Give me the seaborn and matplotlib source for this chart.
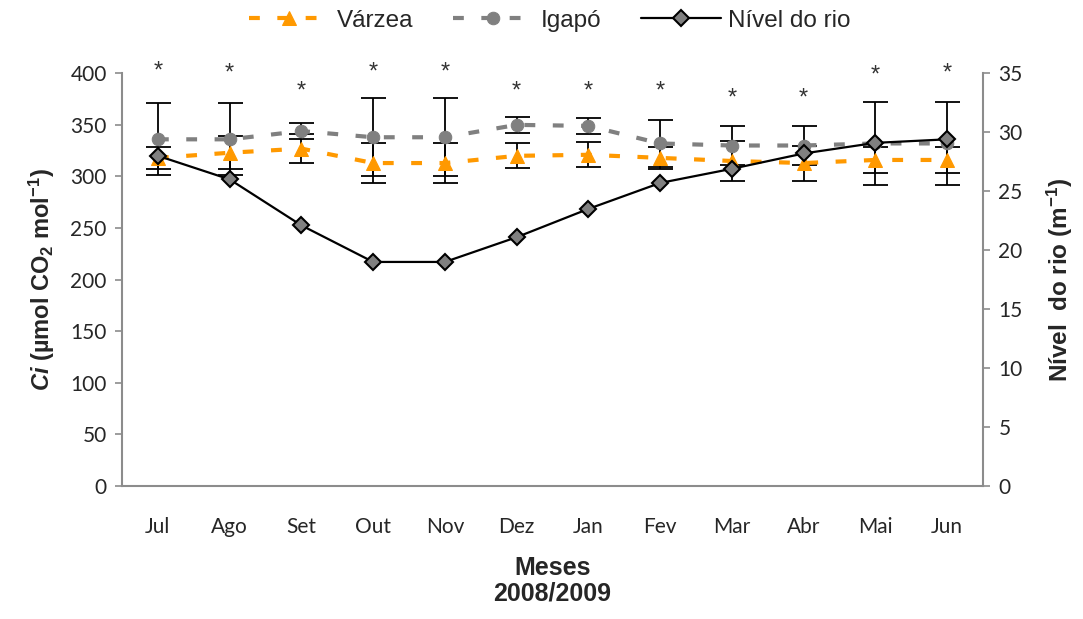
import numpy as np
import seaborn as sns
import matplotlib.pyplot as plt
from matplotlib.ticker import FixedLocator

# valores
months = ['Jul', 'Ago', 'Set', 'Out', 'Nov', 'Dez', 'Jan', 'Fev', 'Mar', 'Abr', 'Mai', 'Jun']
varzea = [318, 323, 327, 313, 313, 320, 321, 318, 315, 313, 316, 316]
varzea_err = [11, 16, 14, 19, 19, 12, 12, 11, 19, 17, 13, 13]
igapo = [336, 336, 344, 338, 338, 350, 349, 332, 330, 330, 332, 332]
igapo_err = [35, 35, 8, 38, 38, 8, 8, 23, 19, 19, 40, 40]
rio = [28.0, 26.0, 22.1, 19.0, 19.0, 21.1, 23.5, 25.7, 26.9, 28.2, 29.1, 29.4]
star_y = [402, 400, 382, 401, 401, 382, 382, 382, 376, 376, 398, 400]

ORANGE = '#FF9900'
GRAY = '#808080'
AXGRAY = '#8C8C8C'

sns.set_style('white')
plt.rcParams['font.family'] = ['Liberation Sans', 'DejaVu Sans']
plt.rcParams['mathtext.fontset'] = 'custom'
plt.rcParams['mathtext.rm'] = 'Liberation Sans'
plt.rcParams['mathtext.bf'] = 'Liberation Sans:bold'
plt.rcParams['mathtext.it'] = 'Liberation Sans:italic'
plt.rcParams['mathtext.bfit'] = 'Liberation Sans:bold:italic'

x = np.arange(len(months))

fig = plt.figure(figsize=(10.83, 6.19), dpi=100)
ax = fig.add_axes([0.1127, 0.2149, 0.795, 0.6667])

# barras de erro atrás dos marcadores
ax.errorbar(x, igapo, yerr=igapo_err, fmt='none', ecolor='black',
            elinewidth=1.3, capsize=9, capthick=1.3, zorder=1)
ax.errorbar(x, varzea, yerr=varzea_err, fmt='none', ecolor='black',
            elinewidth=1.3, capsize=9, capthick=1.3, zorder=1)

sns.lineplot(x=x, y=varzea, ax=ax, color=ORANGE, linewidth=3,
             linestyle=(0, (2.6, 4.2)), marker='^', markersize=10,
             markeredgecolor=ORANGE, label='Várzea', legend=False, zorder=3)
sns.lineplot(x=x, y=igapo, ax=ax, color=GRAY, linewidth=3,
             linestyle=(0, (2.6, 4.2)), marker='o', markersize=9,
             markeredgecolor=GRAY, label='Igapó', legend=False, zorder=2)

for xi, yi in zip(x, star_y):
    ax.text(xi, yi, '*', ha='center', va='center', fontsize=17,
            color='#333333', clip_on=False)

ax.set_xlim(-0.5, len(months) - 0.5)
ax.set_ylim(0, 400)
ax.set_yticks(range(0, 401, 50))
ax.set_xticks(x)
ax.set_xticklabels(months)
ax.xaxis.set_minor_locator(FixedLocator(np.arange(-0.5, len(months), 1.0)))
ax.tick_params(axis='x', which='major', length=0, pad=22, labelsize=15)
ax.tick_params(axis='x', which='minor', length=5, width=1.2, color=AXGRAY,
               direction='out')
ax.tick_params(axis='y', length=5, width=1.2, color=AXGRAY, direction='out',
               labelsize=15, pad=6)
for lab in ax.get_xticklabels() + ax.get_yticklabels():
    lab.set_family(['Lato', 'DejaVu Sans'])

for s in ['top', 'right']:
    ax.spines[s].set_visible(False)
for s in ['left', 'bottom']:
    ax.spines[s].set_color(AXGRAY)
    ax.spines[s].set_linewidth(1.5)

ax.set_ylabel(r'$\bfit{Ci}$ (µmol CO$_\mathbf{2}$ mol$^{\mathbf{-1}}$)',
              fontsize=17, fontweight='bold', labelpad=10)
ax.set_xlabel('Meses\n2008/2009', fontsize=18, fontweight='bold',
              labelpad=14, linespacing=1.08)

ax2 = ax.twinx()
sns.lineplot(x=x, y=rio, ax=ax2, color='black', linewidth=1.6,
             marker='D', markersize=8, markerfacecolor=GRAY,
             markeredgecolor='black', markeredgewidth=1.5,
             label='Nível do rio', legend=False, zorder=4)
ax2.set_ylim(0, 35)
ax2.set_yticks(range(0, 36, 5))
ax2.tick_params(axis='y', length=5, width=1.2, color=AXGRAY, direction='out',
                labelsize=15, pad=6)
for lab in ax2.get_yticklabels():
    lab.set_family(['Lato', 'DejaVu Sans'])
for s in ['top', 'left', 'bottom']:
    ax2.spines[s].set_visible(False)
ax2.spines['right'].set_color(AXGRAY)
ax2.spines['right'].set_linewidth(1.5)
ax2.set_ylabel(r'Nível  do rio (m$^{\mathbf{-1}}$)', fontsize=17.5,
               fontweight='bold', labelpad=16)

h1, l1 = ax.get_legend_handles_labels()
h2, l2 = ax2.get_legend_handles_labels()
fig.legend(h1 + h2, l1 + l2, loc='upper center', bbox_to_anchor=(0.508, 1.02),
           ncol=3, frameon=False, fontsize=17.5, handlelength=3.3,
           columnspacing=1.65, handletextpad=0.29)

fig.savefig('out.png', dpi=100)
